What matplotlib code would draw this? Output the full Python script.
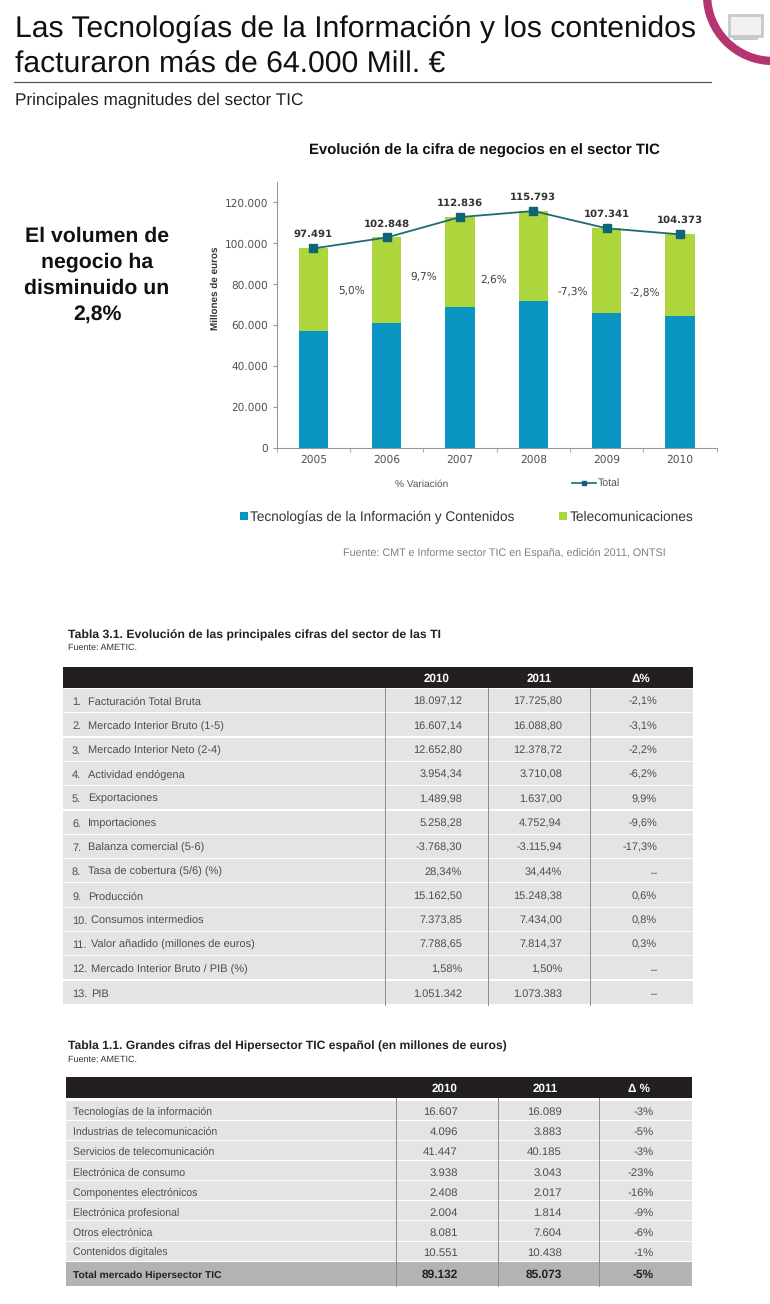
import numpy as np
from matplotlib import pyplot as plt
from matplotlib.patches import Circle, Rectangle
from matplotlib.ticker import FuncFormatter
import logging

logging.getLogger('matplotlib.font_manager').disabled = True
plt.rcParams['text.hinting'] = 'no_hinting'

# chart data
years = ['2005', '2006', '2007', '2008', '2009', '2010']
tiContenidos = [57000, 60900, 68900, 71600, 66100, 64300]
totals = [97491, 102848, 112836, 115793, 107341, 104373]
variations = ['5,0%', '9,7%', '2,6%', '-7,3%', '-2,8%']

# first table
t1Labels = ['Facturación Total Bruta', 'Mercado Interior Bruto (1-5)', 'Mercado Interior Neto (2-4)',
            'Actividad endógena', 'Exportaciones', 'Importaciones', 'Balanza comercial (5-6)',
            'Tasa de cobertura (5/6) (%)', 'Producción', 'Consumos intermedios',
            'Valor añadido (millones de euros)', 'Mercado Interior Bruto / PIB (%)', 'PIB']
t1Col2010 = ['18.097,12', '16.607,14', '12.652,80', '3.954,34', '1.489,98', '5.258,28', '-3.768,30',
             '28,34%', '15.162,50', '7.373,85', '7.788,65', '1,58%', '1.051.342']
t1Col2011 = ['17.725,80', '16.088,80', '12.378,72', '3.710,08', '1.637,00', '4.752,94', '-3.115,94',
             '34,44%', '15.248,38', '7.434,00', '7.814,37', '1,50%', '1.073.383']
t1Delta = ['-2,1%', '-3,1%', '-2,2%', '-6,2%', '9,9%', '-9,6%', '-17,3%', '–', '0,6%', '0,8%', '0,3%', '–', '–']

# second table
t2Labels = ['Tecnologías de la información', 'Industrias de telecomunicación', 'Servicios de telecomunicación',
            'Electrónica de consumo', 'Componentes electrónicos', 'Electrónica profesional',
            'Otros electrónica', 'Contenidos digitales']
t2Col2010 = ['16.607', '4.096', '41.447', '3.938', '2.408', '2.004', '8.081', '10.551']
t2Col2011 = ['16.089', '3.883', '40.185', '3.043', '2.017', '1.814', '7.604', '10.438']
t2Delta = ['-3%', '-5%', '-3%', '-23%', '-16%', '-9%', '-6%', '-1%']
t2Total = ['Total mercado Hipersector TIC', '89.132', '85.073', '-5%']

W, H = 770, 1304
ARIAL = ['Liberation Sans', 'DejaVu Sans']
BLUE = '#0a94c1'
GREEN = '#add53c'
LINE = '#1f6b73'
MARKER = '#0f6478'
GRAYTXT = '#555555'
TABLETXT = '#4d4d4d'

fig = plt.figure(figsize=(W / 100, H / 100), dpi=100)

# whole page axes in pixels, for everything around the chart
page = fig.add_axes([0, 0, 1, 1])
page.set_xlim(0, W)
page.set_ylim(H, 0)
page.axis('off')


def txt(x, y, s, size, color='black', ha='left', weight='normal', va='center'):
    page.text(x, y, s, fontsize=size, color=color, ha=ha, va=va, fontweight=weight, family=ARIAL)


# heading
txt(15, 28.5, 'Las Tecnologías de la Información y los contenidos', 21.7, '#111111')
txt(15, 63.5, 'facturaron más de 64.000 Mill. €', 21.7, '#111111')
page.plot([14, 711], [82, 82], color='#555555', lw=0.9)
txt(15, 100, 'Principales magnitudes del sector TIC', 12.3, '#222222')

# corner badge
page.add_patch(Circle((773, -5), 66, facecolor='white', edgecolor='#b5366f', lw=6))
page.add_patch(Rectangle((729, 15), 33, 21, facecolor='#f0f1f0', edgecolor='#c5cac8', lw=2))
page.add_patch(Rectangle((733, 37), 25, 3, facecolor='#c5cac8', edgecolor='none'))

# left call-out
for y, line in zip([236, 262, 288, 314], ['El volumen de', 'negocio ha', 'disminuido un', '2,8%']):
    txt(97, y, line, 15.3, '#111111', ha='center', weight='bold')

txt(484, 150, 'Evolución de la cifra de negocios en el sector TIC', 10.75, '#111111', ha='center', weight='bold')

# bar chart
ax = fig.add_axes([276.7 / W, 1 - 447.7 / H, 440 / W, 265.7 / H])
x = np.arange(len(years))
telecom = np.array(totals) - np.array(tiContenidos)
ax.bar(x, tiContenidos, width=0.4, color=BLUE)
ax.bar(x, telecom, width=0.4, bottom=tiContenidos, color=GREEN)
ax.plot(x, totals, color=LINE, lw=1.3, marker='s', ms=5.5, mfc=MARKER, mec=MARKER)
ax.set_xlim(-0.5, 5.5)
ax.set_ylim(0, 130000)
ax.set_xticks(np.arange(-0.5, 6, 1), minor=True)
ax.set_xticks(x)
ax.set_xticklabels(years)
ax.set_yticks(range(0, 140000, 20000))
ax.yaxis.set_major_formatter(FuncFormatter(lambda v, p: f'{int(v):,}'.replace(',', '.')))
ax.tick_params(axis='x', which='major', length=0, labelsize=7.7, labelcolor=GRAYTXT, pad=5)
ax.tick_params(axis='x', which='minor', length=3, color='#999999')
ax.tick_params(axis='y', length=3, color='#999999', labelsize=7.6, labelcolor=GRAYTXT, pad=3)
for side in ['top', 'right']:
    ax.spines[side].set_visible(False)
for side in ['left', 'bottom']:
    ax.spines[side].set_color('#999999')
    ax.spines[side].set_linewidth(0.8)
ax.patch.set_alpha(0)

for i, v in enumerate(totals):
    ax.annotate(f'{v:,}'.replace(',', '.'), (i, v), xytext=(0, 10), textcoords='offset points',
                ha='center', va='center', fontsize=7.3, fontweight='bold', color='#333333')

# where the growth labels sit between the bars
varX = [0.52, 1.50, 2.46, 3.54, 4.52]
varY = [76700, 83900, 82050, 76500, 76000]
for px, py, s in zip(varX, varY, variations):
    ax.text(px, py, s, ha='center', va='center', fontsize=7.6, color='#444444')

page.text(215, 288, 'Millones de euros', fontsize=7.1, fontweight='bold', color='#333333',
          rotation=90, ha='center', va='center', family=ARIAL)

# chart legends
txt(422, 487, '% Variación', 7.3, GRAYTXT, ha='center', va='baseline')
page.plot([572, 596], [483, 483], color=LINE, lw=1.2)
page.plot([584], [483], marker='s', ms=3.5, color=MARKER)
txt(598, 487, 'Total', 7.6, GRAYTXT, va='baseline')
page.add_patch(Rectangle((240, 512), 8, 8, facecolor=BLUE, edgecolor='none'))
txt(250, 517, 'Tecnologías de la Información y Contenidos', 9.8, '#333333')
page.add_patch(Rectangle((559, 512), 8, 8, facecolor=GREEN, edgecolor='none'))
txt(570, 517, 'Telecomunicaciones', 9.9, '#333333')
txt(343, 553, 'Fuente: CMT e Informe sector TIC en España, edición 2011, ONTSI', 7.75, '#808080')


def drawHeader(left, right, top, bottom, cols, names):
    page.add_patch(Rectangle((left, top), right - left, bottom - top, facecolor='#231f20', edgecolor='none'))
    for cx, name in zip(cols, names):
        txt(cx, (top + bottom) / 2 + 4, name, 8.4, 'white', ha='center', weight='bold', va='baseline')


# table 3.1
txt(68, 635, 'Tabla 3.1. Evolución de las principales cifras del sector de las TI', 8.8, '#222222', weight='bold')
txt(68, 648, 'Fuente: AMETIC.', 6.5, '#333333')
drawHeader(63, 693, 667, 688, [437, 539, 641], ['2010', '2011', 'Δ%'])
pitch = 24.3
for i in range(len(t1Labels)):
    top = 689 + i * pitch
    base = top + 16
    page.add_patch(Rectangle((63, top), 630, pitch - 1.2, facecolor='#e4e4e4', edgecolor='none'))
    txt(72, base, f'{i + 1}.', 7.9, TABLETXT, va='baseline')
    txt(88 if i < 9 else 91, base, t1Labels[i], 7.9, TABLETXT, va='baseline')
    txt(462, base, t1Col2010[i], 7.9, TABLETXT, ha='right', va='baseline')
    txt(562, base, t1Col2011[i], 7.9, TABLETXT, ha='right', va='baseline')
    txt(657, base, t1Delta[i], 7.9, TABLETXT, ha='right', va='baseline')
for sx in [385, 488, 590]:
    page.plot([sx, sx], [688, 1005], color='#8c8c8c', lw=0.7)

# table 1.1
txt(68, 1046, 'Tabla 1.1. Grandes cifras del Hipersector TIC español (en millones de euros)', 8.75, '#222222',
    weight='bold')
txt(68, 1060, 'Fuente: AMETIC.', 6.5, '#333333')
drawHeader(66, 692, 1077, 1098, [445, 545, 639], ['2010', '2011', 'Δ %'])
pitch = 20.15
for i in range(len(t2Labels)):
    top = 1100.5 + i * pitch
    base = top + 14.5
    page.add_patch(Rectangle((66, top), 626, pitch - 1, facecolor='#e4e4e4', edgecolor='none'))
    txt(73, base, t2Labels[i], 7.6, TABLETXT, va='baseline')
    txt(458, base, t2Col2010[i], 8.2, TABLETXT, ha='right', va='baseline')
    txt(562, base, t2Col2011[i], 8.2, TABLETXT, ha='right', va='baseline')
    txt(654, base, t2Delta[i], 8.2, TABLETXT, ha='right', va='baseline')
page.add_patch(Rectangle((66, 1262), 626, 24, facecolor='#b3b3b3', edgecolor='none'))
txt(73, 1278, t2Total[0], 7.4, '#222222', weight='bold', va='baseline')
txt(458, 1278, t2Total[1], 8.6, '#222222', ha='right', weight='bold', va='baseline')
txt(562, 1278, t2Total[2], 8.6, '#222222', ha='right', weight='bold', va='baseline')
txt(654, 1278, t2Total[3], 8.6, '#222222', ha='right', weight='bold', va='baseline')
for sx in [396, 498, 599]:
    page.plot([sx, sx], [1098, 1286], color='#8c8c8c', lw=0.7)

fig.savefig('out.png', dpi=100)
